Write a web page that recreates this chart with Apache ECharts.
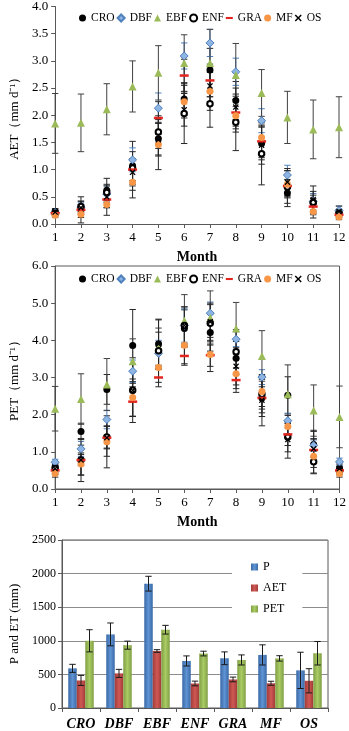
<!DOCTYPE html>
<html>
<head>
<meta charset="utf-8">
<script src="https://cdn.jsdelivr.net/npm/echarts@6/dist/echarts.min.js"></script>
<style>
  html, body { margin: 0; padding: 0; background: #fff; }
  #main { width: 349px; height: 731px; }
</style>
</head>
<body>
<div id="main"></div>
<script>
// months and biome names
var months = [1, 2, 3, 4, 5, 6, 7, 8, 9, 10, 11, 12];
var biomes = ['CRO', 'DBF', 'EBF', 'ENF', 'GRA', 'MF', 'OS'];

// monthly AET (mm/d) and error
var aetCRO = [0.23, 0.28, 0.62, 1.07, 1.57, 2.30, 2.83, 2.27, 1.48, 0.57, 0.38, 0.21];
var aetDBF = [0.21, 0.31, 0.55, 1.18, 2.13, 3.09, 3.33, 2.80, 1.90, 0.90, 0.41, 0.25];
var aetEBF = [1.85, 1.86, 2.11, 2.53, 2.78, 2.96, 2.96, 2.74, 2.41, 1.96, 1.74, 1.78];
var aetENF = [0.20, 0.32, 0.58, 1.03, 1.69, 2.03, 2.21, 1.87, 1.29, 0.68, 0.40, 0.20];
var aetGRA = [0.20, 0.26, 0.45, 1.00, 1.95, 2.73, 2.64, 2.05, 1.52, 0.70, 0.32, 0.17];
var aetMF  = [0.16, 0.18, 0.36, 0.77, 1.46, 2.25, 2.44, 1.99, 1.59, 0.73, 0.23, 0.13];
var aetOS  = [0.22, 0.30, 0.50, 0.95, 1.55, 2.10, 2.54, 2.15, 1.45, 0.77, 0.45, 0.23];

var aetErrCRO = [0.05, 0.08, 0.22, 0.45, 0.30, 0.30, 0.40, 0.35, 0.30, 0.25, 0.15, 0.06];
var aetErrDBF = [0.05, 0.08, 0.15, 0.22, 0.28, 0.24, 0.25, 0.25, 0.22, 0.18, 0.15, 0.08];
var aetErrEBF = [0.55, 0.53, 0.47, 0.47, 0.50, 0.52, 0.62, 0.58, 0.43, 0.48, 0.54, 0.56];
var aetErrENF = [0.05, 0.10, 0.15, 0.30, 0.30, 0.55, 0.43, 0.52, 0.57, 0.30, 0.20, 0.05];
var aetErrGRA = [0.05, 0.24, 0.15, 0.20, 0.30, 0.30, 0.30, 0.30, 0.30, 0.20, 0.15, 0.05];
var aetErrMF  = [0.04, 0.06, 0.20, 0.29, 0.46, 0.30, 0.35, 0.30, 0.30, 0.25, 0.12, 0.05];
var aetErrOS  = [0.06, 0.12, 0.20, 0.25, 0.30, 0.30, 0.35, 0.35, 0.35, 0.25, 0.25, 0.10];

// monthly PET (mm/d) and error
var petCRO = [0.60, 1.55, 2.68, 3.86, 3.90, 4.32, 4.21, 3.52, 2.45, 2.52, 1.20, 0.55];
var petDBF = [0.72, 1.08, 1.87, 3.17, 3.65, 4.40, 4.73, 4.03, 3.01, 1.84, 1.17, 0.73];
var petEBF = [2.16, 2.42, 2.81, 3.44, 3.83, 4.53, 4.60, 4.32, 3.58, 2.55, 2.11, 1.94];
var petENF = [0.55, 0.78, 1.40, 2.66, 3.72, 4.40, 4.46, 3.69, 2.55, 1.40, 0.73, 0.48];
var petGRA = [0.50, 0.78, 1.38, 2.35, 3.00, 3.58, 3.60, 2.93, 2.45, 1.47, 1.05, 0.50];
var petMF  = [0.42, 0.67, 1.27, 2.46, 3.27, 3.87, 3.62, 3.10, 2.62, 1.68, 0.88, 0.42];
var petOS  = [0.55, 0.78, 1.38, 2.65, 3.90, 4.40, 4.50, 3.30, 2.39, 1.33, 1.08, 0.55];

var petErrCRO = [0.10, 0.22, 0.40, 0.97, 0.67, 0.50, 0.50, 0.45, 0.50, 0.50, 0.35, 0.10];
var petErrDBF = [0.08, 0.20, 0.25, 0.30, 0.35, 0.45, 0.30, 0.20, 0.20, 0.20, 0.15, 0.10];
var petErrEBF = [0.60, 0.68, 0.70, 0.60, 0.50, 0.70, 0.73, 0.70, 0.68, 0.79, 0.69, 0.83];
var petErrENF = [0.10, 0.15, 0.30, 0.87, 0.50, 0.50, 0.50, 0.60, 0.50, 0.40, 0.30, 0.10];
var petErrGRA = [0.10, 0.58, 0.30, 0.40, 0.25, 0.25, 0.30, 0.33, 0.30, 0.30, 0.30, 0.10];
var petErrMF  = [0.10, 0.30, 0.70, 0.50, 0.40, 0.50, 0.46, 0.40, 0.40, 0.30, 0.47, 0.10];
var petErrOS  = [0.15, 0.40, 0.50, 0.70, 0.65, 0.50, 0.50, 0.50, 0.69, 0.50, 0.50, 0.15];

// annual totals (mm) and error
var annP    = [590, 1095, 1850, 700, 740, 790, 560];
var annAET  = [410, 515, 848, 365, 425, 368, 405];
var annPET  = [1000, 935, 1165, 810, 715, 738, 815];
var annPErr   = [60, 170, 110, 75, 95, 150, 270];
var annAETErr = [75, 60, 20, 35, 35, 30, 180];
var annPETErr = [165, 60, 65, 35, 75, 40, 175];

var serif = "'Times New Roman', 'Liberation Serif', serif";
var axisCol = '#595959';
var xPath = 'path://M0,1.5L1.5,0L5,3.5L8.5,0L10,1.5L6.5,5L10,8.5L8.5,10L5,6.5L1.5,10L0,8.5L3.5,5Z';

// marker styles per biome
var markers = {
    CRO: {symbol: 'circle', size: 7, style: {color: '#000'}, legendIcon: 'circle', bar: '#262626'},
    DBF: {symbol: 'diamond', size: 8, style: {color: '#8DB4E2', borderColor: '#4F81BD', borderWidth: 1}, legendIcon: 'diamond', bar: '#4F81BD'},
    EBF: {symbol: 'triangle', size: 8, style: {color: '#9BBB59'}, legendIcon: 'triangle', bar: '#404040'},
    ENF: {symbol: 'emptyCircle', size: 5.5, style: {color: '#000', borderWidth: 1.4}, legendIcon: 'emptyCircle', bar: '#262626'},
    GRA: {symbol: 'rect', size: [9, 2.5], style: {color: '#E2261F'}, legendIcon: 'path://M0,0L10,0L10,3L0,3Z', bar: '#262626'},
    MF:  {symbol: 'circle', size: 7, style: {color: '#F79646'}, legendIcon: 'circle', bar: '#262626'},
    OS:  {symbol: xPath, size: 6, style: {color: '#000'}, legendIcon: xPath, bar: '#262626'}
};

var aetVals = {CRO: aetCRO, DBF: aetDBF, EBF: aetEBF, ENF: aetENF, GRA: aetGRA, MF: aetMF, OS: aetOS};
var aetErrs = {CRO: aetErrCRO, DBF: aetErrDBF, EBF: aetErrEBF, ENF: aetErrENF, GRA: aetErrGRA, MF: aetErrMF, OS: aetErrOS};
var petVals = {CRO: petCRO, DBF: petDBF, EBF: petEBF, ENF: petENF, GRA: petGRA, MF: petMF, OS: petOS};
var petErrs = {CRO: petErrCRO, DBF: petErrDBF, EBF: petErrEBF, ENF: petErrENF, GRA: petErrGRA, MF: petErrMF, OS: petErrOS};

function errBar(color, dx) {
    return function (params, api) {
        var x = api.value(0);
        var a = api.coord([x, api.value(2)]);
        var b = api.coord([x, api.value(1)]);
        var cx = a[0] + (dx || 0);
        var w = 3.2;
        var st = {stroke: color, lineWidth: 1};
        return {type: 'group', children: [
            {type: 'line', shape: {x1: cx, y1: a[1], x2: cx, y2: b[1]}, style: st},
            {type: 'line', shape: {x1: cx - w, y1: a[1], x2: cx + w, y2: a[1]}, style: st},
            {type: 'line', shape: {x1: cx - w, y1: b[1], x2: cx + w, y2: b[1]}, style: st}
        ]};
    };
}

var series = [];
// error bars first so markers sit on top
[[aetVals, aetErrs, 0], [petVals, petErrs, 1]].forEach(function (set) {
    biomes.forEach(function (b) {
        var v = set[0][b], e = set[1][b];
        series.push({
            type: 'custom', name: b + '_err' + set[2],
            xAxisIndex: set[2], yAxisIndex: set[2], z: 2,
            renderItem: errBar(markers[b].bar),
            encode: {x: 0, y: [1, 2]},
            data: months.map(function (m, i) { return [m, v[i] - e[i], v[i] + e[i]]; })
        });
    });
});
[[aetVals, 0], [petVals, 1]].forEach(function (set) {
    biomes.forEach(function (b) {
        var mk = markers[b];
        series.push({
            type: 'scatter', name: b,
            xAxisIndex: set[1], yAxisIndex: set[1], z: 3,
            symbol: mk.symbol, symbolSize: mk.size,
            itemStyle: Object.assign({opacity: 1}, mk.style),
            data: months.map(function (m, i) { return [m, set[0][b][i]]; })
        });
    });
});

// annual bars
function grad(edge, mid) {
    return new echarts.graphic.LinearGradient(0, 0, 1, 0, [
        {offset: 0, color: edge}, {offset: 0.5, color: mid}, {offset: 1, color: edge}
    ]);
}
var barDefs = [
    {name: 'P', vals: annP, errs: annPErr, color: grad('#3A69A6', '#5F93D3'), dx: -8.5},
    {name: 'AET', vals: annAET, errs: annAETErr, color: grad('#A33B38', '#CF5955'), dx: 0},
    {name: 'PET', vals: annPET, errs: annPETErr, color: grad('#819F45', '#A9CB63'), dx: 8.5}
];
barDefs.forEach(function (d) {
    series.push({
        type: 'bar', name: d.name, xAxisIndex: 2, yAxisIndex: 2,
        barWidth: 8.5, barGap: '0%',
        itemStyle: {color: d.color},
        data: d.vals
    });
});
barDefs.forEach(function (d) {
    series.push({
        type: 'custom', name: d.name + '_err', xAxisIndex: 2, yAxisIndex: 2, z: 4,
        renderItem: errBar('#1a1a1a', d.dx),
        encode: {x: 0, y: [1, 2]},
        data: d.vals.map(function (v, i) { return [i, v - d.errs[i], v + d.errs[i]]; })
    });
});

function monthAxis(idx) {
    return {
        type: 'value', gridIndex: idx, min: 1, max: 12, interval: 1,
        name: 'Month', nameLocation: 'middle', nameGap: 26,
        nameTextStyle: {fontFamily: serif, fontWeight: 'bold', fontSize: 14, color: '#000'},
        axisLine: {show: true, lineStyle: {color: axisCol}},
        axisTick: {show: true, length: 4, lineStyle: {color: axisCol}},
        axisLabel: {fontFamily: serif, fontSize: 13, color: '#000', margin: 7},
        splitLine: {show: false}
    };
}
function valAxis(idx, max, step, name) {
    return {
        type: 'value', gridIndex: idx, min: 0, max: max, interval: step,
        name: name, nameLocation: 'middle', nameGap: 33,
        nameTextStyle: {fontFamily: serif, fontSize: 13, color: '#000'},
        axisLine: {show: true, lineStyle: {color: axisCol}},
        axisTick: {show: true, length: 4, lineStyle: {color: axisCol}},
        axisLabel: {fontFamily: serif, fontSize: 13, color: '#000', margin: 7,
            formatter: function (v) { return v.toFixed(1); }},
        splitLine: {show: false}
    };
}

function biomeLegend(top) {
    return {
        top: top, left: 74, itemWidth: 7, itemHeight: 7, itemGap: 2,
        textStyle: {fontFamily: serif, fontSize: 11.5, color: '#000'},
        selectedMode: false,
        data: biomes.map(function (b) { return {name: b, icon: markers[b].legendIcon}; })
    };
}

var chart = echarts.init(document.getElementById('main'));
chart.setOption({
    animation: false,
    backgroundColor: '#fff',
    grid: [
        {left: 45, right: 10, top: 1, height: 223},
        {left: 48, right: 7, top: 266, height: 223, show: true, borderColor: axisCol, borderWidth: 1},
        {left: 62, right: 21, top: 540, height: 168, show: true, borderColor: axisCol, borderWidth: 1}
    ],
    legend: [
        biomeLegend(7),
        biomeLegend(268),
        {
            orient: 'vertical', left: 232, top: 555,
            itemWidth: 7, itemHeight: 7, itemGap: 9,
            padding: [6, 16, 6, 19], backgroundColor: '#fff', z: 5,
            selectedMode: false,
            textStyle: {fontFamily: serif, fontSize: 12, color: '#000'},
            data: [{name: 'P', icon: 'rect'}, {name: 'AET', icon: 'rect'}, {name: 'PET', icon: 'rect'}]
        }
    ],
    xAxis: [
        monthAxis(0),
        monthAxis(1),
        {
            type: 'category', gridIndex: 2, data: biomes,
            axisLine: {show: true, lineStyle: {color: axisCol}},
            axisTick: {show: true, length: 4, lineStyle: {color: axisCol}},
            axisLabel: {fontFamily: serif, fontSize: 14, fontWeight: 'bold', fontStyle: 'italic', color: '#000', margin: 9}
        }
    ],
    yAxis: [
        valAxis(0, 4, 0.5, 'AET（mm d⁻¹）'),
        valAxis(1, 6, 1, 'PET（mm d⁻¹）'),
        {
            type: 'value', gridIndex: 2, min: 0, max: 2500, interval: 500,
            name: 'P and ET (mm)', nameLocation: 'middle', nameGap: 38,
            nameTextStyle: {fontFamily: serif, fontSize: 13, color: '#000'},
            axisLine: {show: true, lineStyle: {color: axisCol}},
            axisTick: {show: true, length: 4, lineStyle: {color: axisCol}},
            axisLabel: {fontFamily: serif, fontSize: 12, color: '#000', margin: 6,
                formatter: function (v) { return String(v); }},
            splitLine: {show: true, lineStyle: {color: '#8c8c8c', width: 1}}
        }
    ],
    series: series
});
</script>
</body>
</html>
